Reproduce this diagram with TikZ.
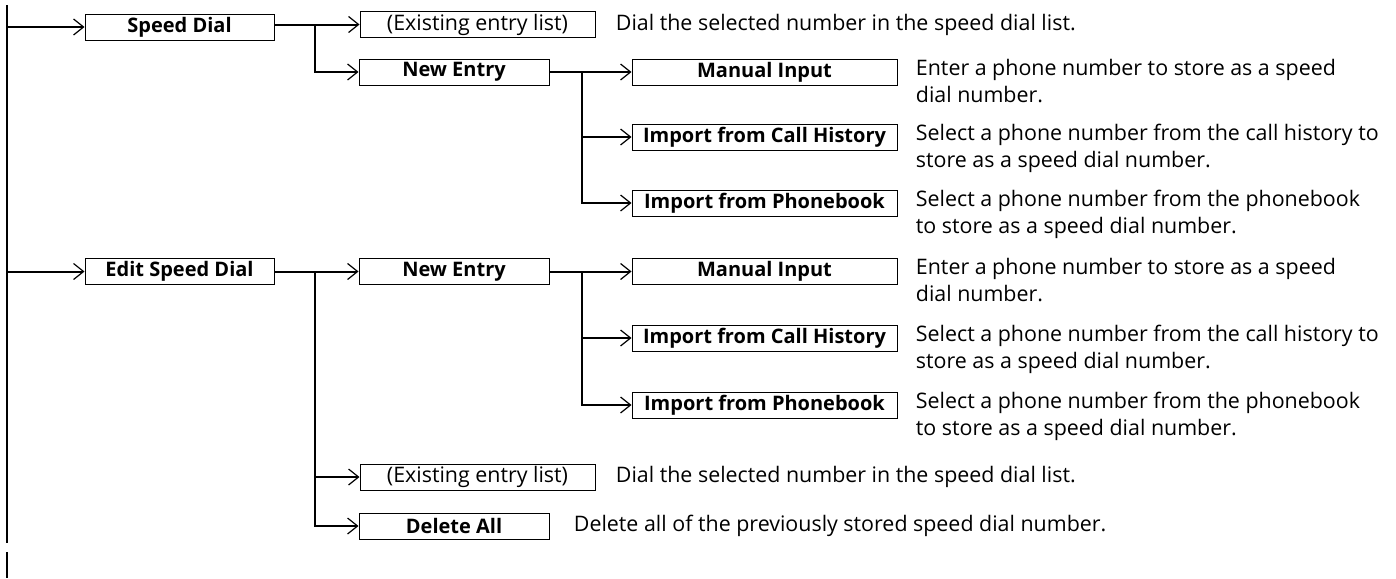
\documentclass[tikz,border=0pt]{standalone}
\usepackage{fontspec}
\setmainfont{Open Sans}
\usepackage{tikz}
\usetikzlibrary{arrows.meta, positioning}

\begin{document}
\begin{tikzpicture}[x=0.5pt, y=-0.5pt,
  >={Straight Barb[length=5pt, width=8pt, line width=0.6pt]},
  menu/.style={draw, line width=0.5pt, inner sep=0pt, minimum height=13pt, font=\fontsize{10}{12}\selectfont\bfseries},
  entry/.style={menu, font=\fontsize{10.7}{12}\selectfont},
  desc/.style={inner sep=0pt, align=left, font=\fontsize{10.7}{13.5}\selectfont},
  link/.style={line width=1pt}]
  \useasboundingbox (0,0) rectangle (1396,578);

  % Speed Dial
  \node[menu, minimum width=94.5pt] (SD) at (179.5,27) {Speed Dial};
  \node[entry, minimum width=117.5pt] (EX1) at (477.5,24.5) {(Existing entry list)};
  \node[menu, minimum width=95pt] (NE1) at (454,72) {New Entry};
  \node[menu, minimum width=132.5pt] (MI1) at (764.5,72) {Manual Input};
  \node[menu, minimum width=132.5pt] (CH1) at (764.5,137) {Import from Call History};
  \node[menu, minimum width=132.5pt] (PB1) at (764.5,203) {Import from Phonebook};
  \node[desc, anchor=west] (dEX1) at ([xshift=10pt]EX1.east) {Dial the selected number in the speed dial list.};
  \node[desc, anchor=north west] (dMI1) at ([xshift=9pt]MI1.north east) {Enter a phone number to store as a speed\\dial number.};
  \node[desc, anchor=north west] (dCH1) at ([xshift=9pt]CH1.north east) {Select a phone number from the call history to\\store as a speed dial number.};
  \node[desc, anchor=north west] (dPB1) at ([xshift=9pt]PB1.north east) {Select a phone number from the phonebook\\to store as a speed dial number.};

  % Edit Speed Dial
  \node[menu, minimum width=94.5pt] (ESD) at (179.5,271.5) {Edit Speed Dial};
  \node[menu, minimum width=95pt] (NE2) at (454,271.5) {New Entry};
  \node[menu, minimum width=132.5pt] (MI2) at (764.5,271.5) {Manual Input};
  \node[menu, minimum width=132.5pt] (CH2) at (764.5,338) {Import from Call History};
  \node[menu, minimum width=132.5pt] (PB2) at (764.5,405) {Import from Phonebook};
  \node[entry, minimum width=117.5pt] (EX2) at (477.5,477) {(Existing entry list)};
  \node[menu, minimum width=95pt] (DA) at (454,526) {Delete All};
  \node[desc, anchor=north west] (dMI2) at ([xshift=9pt]MI2.north east) {Enter a phone number to store as a speed\\dial number.};
  \node[desc, anchor=north west] (dCH2) at ([xshift=9pt]CH2.north east) {Select a phone number from the call history to\\store as a speed dial number.};
  \node[desc, anchor=north west] (dPB2) at ([xshift=9pt]PB2.north east) {Select a phone number from the phonebook\\to store as a speed dial number.};
  \node[desc, anchor=west] (dEX2) at ([xshift=10pt]EX2.east) {Dial the selected number in the speed dial list.};
  \node[desc, anchor=west] (dDA) at ([xshift=12pt]DA.east) {Delete all of the previously stored speed dial number.};

  % connectors
  \coordinate (top) at (7,5);
  \coordinate (bot) at (7,543);
  \coordinate (tail1) at (7,552);
  \coordinate (tail2) at (7,578);
  \coordinate (b1) at (315,24.5);
  \coordinate (b2) at (582,72);
  \coordinate (b3) at (315,271.5);
  \coordinate (b4) at (582,271.5);
  \draw[link] (top) -- (bot);
  \draw[link] (tail1) -- (tail2);
  \draw[link, ->] (top |- SD) -- (SD.west);
  \draw[link, ->] (top |- ESD) -- (ESD.west);

  \draw[link, ->] (SD.east |- b1) -- (EX1.west);
  \draw[link, ->] (b1) |- (NE1.west);
  \draw[link, ->] (NE1.east) -- (MI1.west);
  \draw[link, ->] (b2) |- (PB1.west);
  \draw[link, ->] (b2 |- CH1) -- (CH1.west);

  \draw[link, ->] (ESD.east) -- (NE2.west);
  \draw[link, ->] (b3) |- (DA.west);
  \draw[line width=0.6pt, ->] (b3 |- EX2) -- (EX2.west);
  \draw[link, ->] (NE2.east) -- (MI2.west);
  \draw[link, ->] (b4) |- (PB2.west);
  \draw[link, ->] (b4 |- CH2) -- (CH2.west);
\end{tikzpicture}
\end{document}
